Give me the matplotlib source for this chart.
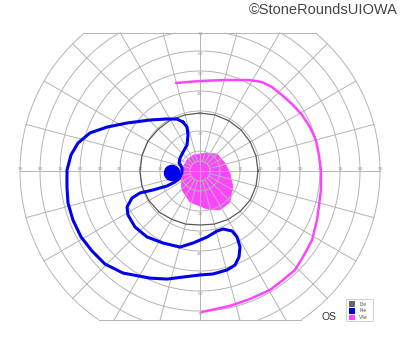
import numpy as np
import matplotlib.pyplot as plt
from matplotlib.patches import Circle, Polygon

# VISUAL FIELD DATA (meridian angle in degrees, eccentricity in degrees)

# I4e isopter (closed loop)
i4e_angle = [109.1, 106.5, 108.4, 116.6, 131.8, 147.0, 159.1, 170.5, 186.3,
             200.9, 203.7, 204.4, 202.0, 200.1, 201.7, 206.3, 211.4, 220.7,
             231.2, 242.8, 255.3, 264.4, 276.1, 285.8, 291.6, 298.1, 299.3,
             297.8, 294.4, 290.4, 285.3, 277.2, 270.0, 260.9, 253.0, 245.0,
             233.0, 224.4, 216.5, 209.0, 201.1, 193.6, 186.9, 179.6, 172.9,
             167.1, 160.9, 154.7, 146.7, 134.4, 122.4, 113.9, 109.1]
i4e_ecc = [25.9, 22.9, 19.0, 14.5, 12.7, 11.9, 11.2, 9.1, 9.1,
           11.2, 13.7, 18.1, 25.3, 32.0, 36.6, 40.7, 42.2, 42.9,
           42.3, 40.5, 39.3, 36.2, 33.2, 31.2, 31.2, 34.0, 37.8,
           42.9, 47.2, 50.2, 51.3, 51.9, 52.0, 53.7, 56.5, 59.1,
           63.9, 66.5, 67.2, 68.0, 68.1, 67.9, 67.0, 66.5, 65.0,
           62.6, 58.2, 51.4, 43.7, 35.7, 30.8, 28.4, 25.9]

# V4e isopter (open curve, top to bottom through the temporal side)
v4e_angle = [105.3, 90.0, 74.6, 61.2, 55.1, 49.4, 42.8, 36.1, 28.8, 21.8,
             15.0, 7.7, 0.0, -8.9, -15.9, -22.7, -31.6, -39.9, -46.2,
             -52.7, -59.5, -68.7, -77.5, -89.2]
v4e_ecc = [45.6, 45.0, 47.2, 51.9, 54.2, 55.3, 55.9, 56.9, 58.2, 59.2,
           60.0, 60.0, 60.5, 61.2, 61.9, 63.4, 65.8, 67.1, 68.6,
           68.5, 69.0, 68.7, 69.1, 70.5]

# V4e central island (filled)
v4e_island_angle = [113.6, 74.5, 45.0, 17.7, -3.8, -25.9, -45.9, -62.9,
                    -79.6, -107.9, -133.5, -162.5, 166.8, 139.8]
v4e_island_ecc = [8.7, 9.3, 12.0, 13.1, 15.0, 18.3, 21.6, 21.9,
                  19.3, 16.3, 13.1, 10.0, 8.7, 8.5]

# I3e isopter, every 15 degrees
i3e_angle = list(range(0, 361, 15))
i3e_ecc = [29.0, 29.0, 29.0, 29.0, 29.0, 29.0, 29.0, 29.0, 29.5, 29.5, 30.0, 30.0,
           30.0, 30.0, 29.5, 29.0, 28.0, 27.5, 27.0, 27.5, 28.0, 28.5, 29.0, 29.0, 29.0]

# blind spot
blind_spot = (184.0, 14.0)
blind_spot_size = 3.8

ring_values = [5, 10, 20, 30, 40, 50, 60, 70, 80, 90]
h_labels = [20, 30, 40, 50, 60, 70, 80, 90]
v_labels = [20, 30, 40, 50, 60, 70]


def to_xy(angle, ecc):
    a = np.radians(np.array(angle, dtype=float))
    r = np.array(ecc, dtype=float)
    return r * np.cos(a), r * np.sin(a)


TOP = 69.0
BOTTOM = -74.5
GRID = '#b4b4b4'

fig = plt.figure(figsize=(4, 3.52), dpi=100)
ax = fig.add_axes([0, 0, 1, 1])
ax.set_xlim(-100, 100)
ax.set_ylim(-90.5, 85.5)
ax.set_aspect('equal')
ax.axis('off')

# CENTRAL ISLAND (under the grid)
ix, iy = to_xy(v4e_island_angle, v4e_island_ecc)
ax.add_patch(Polygon(np.column_stack([ix, iy]), closed=True,
                     facecolor='#ff44ff', edgecolor='#ff44ff', lw=0.5, zorder=1))

# GRID
t = np.linspace(0, 2 * np.pi, 721)
for r in ring_values:
    x = r * np.cos(t)
    y = r * np.sin(t)
    y = np.where((y > TOP) | (y < BOTTOM), np.nan, y)
    ax.plot(x, y, color=GRID, lw=0.7, zorder=2)

for a in range(0, 360, 15):
    s = np.sin(np.radians(a))
    c = np.cos(np.radians(a))
    r_end = 90.0
    if s > 1e-9:
        r_end = min(r_end, TOP / s)
    if s < -1e-9:
        r_end = min(r_end, BOTTOM / s)
    r_start = 0 if a % 90 == 0 else 5
    ax.plot([r_start * c, r_end * c], [r_start * s, r_end * s],
            color=GRID, lw=0.7, zorder=2)

half_top = np.sqrt(90 ** 2 - TOP ** 2)
half_bot = np.sqrt(90 ** 2 - BOTTOM ** 2)
ax.plot([-half_top, half_top], [TOP, TOP], color=GRID, lw=0.7, zorder=2)
ax.plot([-half_bot, half_bot], [BOTTOM, BOTTOM], color=GRID, lw=0.7, zorder=2)

# axis numbers
for v in h_labels:
    for sgn in (-1, 1):
        ax.text(sgn * v, 0.8, str(v), fontsize=3.2, color='#9a9a9a',
                ha='center', va='center', zorder=3)
for v in v_labels:
    for sgn in (-1, 1):
        ax.text(0, sgn * v - 1.5, str(v), fontsize=3.2, color='#9a9a9a',
                ha='center', va='center', zorder=3)

# ISOPTERS
gx, gy = to_xy(i3e_angle, i3e_ecc)
ax.plot(gx, gy, color='#5a5a5a', lw=0.9, zorder=4)

mx, my = to_xy(v4e_angle, v4e_ecc)
ax.plot(mx, my, color='#ff44ff', lw=1.8, zorder=4,
        solid_capstyle='round', solid_joinstyle='round')

bx, by = to_xy(i4e_angle, i4e_ecc)
ax.plot(bx, by, color='#0000ee', lw=2.2, zorder=5,
        solid_capstyle='round', solid_joinstyle='round')

sx, sy = to_xy([blind_spot[0]], [blind_spot[1]])
ax.add_patch(Circle((sx[0], sy[0]), blind_spot_size, color='#0000ee', zorder=5))

# LEGEND
legend_names = ['I3e', 'I4e', 'V4e']
legend_colors = ['#666666', '#0000ee', '#ff44ff']
ax.add_patch(plt.Rectangle((72.8, -75.0), 13.5, 11.0, facecolor='white',
                           edgecolor='#bbbbbb', lw=0.5, zorder=6))
for i, (name, col) in enumerate(zip(legend_names, legend_colors)):
    yy = -66.5 - i * 3.4
    ax.add_patch(plt.Rectangle((74.3, yy - 1.4), 3.0, 2.8, facecolor=col,
                               edgecolor='none', zorder=7))
    ax.text(79.5, yy, name, fontsize=3.3, color='#555555', va='center', zorder=7)

ax.text(64.5, -73.0, 'OS', fontsize=7.5, color='#333333', ha='center',
        va='center', family='Liberation Sans')

fig.text(0.995, 0.972, '\u00a9StoneRoundsUIOWA', fontsize=10.5, color='#444444',
         ha='right', va='center', family='Liberation Sans')

plt.savefig('out.png', dpi=100)
